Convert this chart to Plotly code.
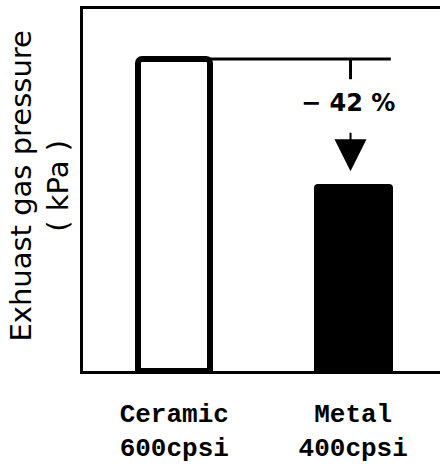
import plotly.graph_objects as go

categories = ["Ceramic<br>600cpsi", "Metal<br>400cpsi"]
pressure = [100, 60]
reduction_label = "−\u00a042\u00a0%"

fig = go.Figure()
fig.add_trace(go.Bar(
    x=[0, 1], y=pressure,
    width=[0.40, 0.44],
    marker=dict(color=["white", "black"],
                line=dict(color="black", width=[6, 0]),
                cornerradius=4),
    showlegend=False, hoverinfo="skip",
))

top = pressure[0]
low = pressure[1]
# horizontal reference line from top of ceramic bar
fig.add_shape(type="line", x0=0.2, x1=1.21, y0=top, y1=top,
              line=dict(color="black", width=3), layer="below")
# short vertical tick
fig.add_shape(type="line", x0=0.985, x1=0.985, y0=top, y1=top - 6.5,
              line=dict(color="black", width=3))
fig.add_annotation(x=0.97, y=(top + low) / 2 + 6, text=reduction_label,
                   showarrow=False,
                   font=dict(family="DejaVu Sans", size=24, color="black",
                             weight="bold"))
fig.add_annotation(x=0.985, y=low + 4, text="", showarrow=True,
                   ax=0, ay=-40, arrowhead=2, arrowwidth=2, arrowsize=3.2,
                   arrowcolor="black")

fig.add_annotation(xref="paper", yref="paper", x=-0.12, y=0.51,
                   text="Exhuast gas pressure<br>( kPa )", textangle=-90,
                   showarrow=False, xanchor="center", yanchor="middle",
                   font=dict(family="DejaVu Sans", size=29, color="black"))

fig.update_layout(
    width=440, height=468,
    margin=dict(l=83, r=0, t=9, b=97),
    plot_bgcolor="white", paper_bgcolor="white",
    bargap=0,
)
fig.update_xaxes(range=[-0.51, 1.485], tickvals=[0, 1], ticktext=categories,
                 showline=True, linecolor="black", linewidth=3, mirror=True,
                 showgrid=False, zeroline=False, ticks="",
                 ticklabelstandoff=17,
                 tickfont=dict(family="Liberation Mono", size=26, color="black",
                               weight="bold"))
fig.update_yaxes(range=[0, 116], showticklabels=False, showline=True,
                 linecolor="black", linewidth=3, mirror=False,
                 showgrid=False, zeroline=False, ticks="")

fig.write_html("out.html", config={"displayModeBar": False},
               post_script="document.body.style.margin='0';")
